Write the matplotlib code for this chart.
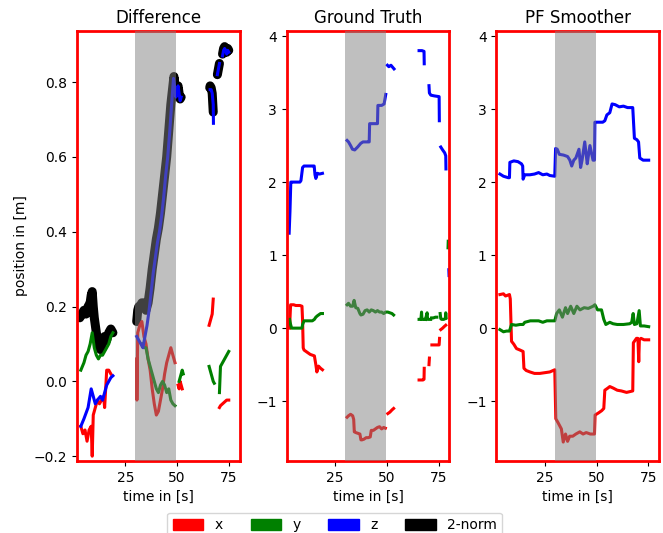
import numpy as np
import matplotlib
matplotlib.use('Agg')
import matplotlib.pyplot as plt
from matplotlib.patches import Patch

nan = np.nan

# ---- Difference panel ----
diff_x_t = [3.5, 4.5, 5.5, 6.5, 7.5, 8.5, 9, 9.5, 10.5, 11.5, 12.5, 13.5, 14.5, 15, 15.5, 16, 17, 18, nan,
            30.5, 30.6, 31, 32, 33, 34, 35, 36, 37, 38, 39, 40, 41, 42, 43, 44, 45, 46, 47, 48, 49, nan,
            50.5, 51, 51.5, 52, 52.5, nan, 65.5, 66, 66.5, 67, 67.5, nan, 70.5, 71, 72, 73, 74, 75]
diff_x = [-0.12, -0.14, -0.13, -0.16, -0.13, -0.12, -0.2, -0.09, -0.07, -0.05, -0.06, -0.05, -0.04, -0.07, -0.02, 0.03, 0.03, 0.02, nan,
          0.06, -0.05, 0.13, 0.15, 0.16, 0.12, 0.1, 0.06, 0.03, -0.02, -0.06, -0.09, -0.08, -0.05, -0.02, 0.02, 0.05, 0.07, 0.09, 0.07, 0.05, nan,
          -0.01, -0.02, 0.0, -0.01, -0.02, nan, 0.15, 0.16, 0.17, 0.18, 0.22, nan, -0.07, -0.065, -0.06, -0.055, -0.05, -0.05]

diff_y_t = [3.5, 5, 6, 7, 8, 9, 10, 11, 12, 13, 14, 15, 16, 17, 18, 19, nan,
            33, 34, 35, 36, 37, 38, 39, 40, 41, 42, 43, 44, 45, 46, 47, 48, 49, nan,
            51, 51.5, 52, 52.5, 53, nan, 65.5, 66, 66.5, 67, 67.5, 68, nan, 70.5, 71, 71.5, 72, 73, 74, 75]
diff_y = [0.03, 0.05, 0.07, 0.08, 0.1, 0.13, 0.09, 0.07, 0.06, 0.07, 0.07, 0.08, 0.09, 0.1, 0.12, 0.13, nan,
          0.1, 0.09, 0.09, 0.06, 0.04, 0.02, 0.0, -0.02, -0.03, -0.01, 0.0, -0.01, -0.03, -0.02, -0.05, -0.06, -0.065, nan,
          0.0, 0.01, 0.02, 0.03, 0.02, nan, 0.04, 0.03, 0.02, 0.01, 0.0, -0.005, nan, -0.03, 0.04, 0.045, 0.05, 0.06, 0.07, 0.08]

diff_z_t = [3.5, 5, 7, 8.5, 9.5, 10.5, 11.5, 13, 14, 15, 16, 17, 18, 19, nan,
            30.5, 31.5, 32.5, 33.5, 34.5, 35.5, 36.5, 37.5, 38.5, 39.5, 40.5, 41.5, 42.5, 43.5, 44.5, 45.5, 46.5, 47.5, 48.3,
            49.5, 50, 50.5, 51, 51.5, 52, nan,
            66, 66.5, 67, 67.5, 67.6, nan, 69.5, 70, 70.5, nan, 72, 72.5, 73, 73.5, 74, 74.5, 75]
diff_z = [-0.12, -0.1, -0.07, -0.02, -0.04, -0.06, -0.05, -0.04, -0.05, -0.03, -0.01, 0.0, 0.01, 0.015, nan,
          0.12, 0.11, 0.1, 0.09, 0.12, 0.15, 0.19, 0.24, 0.29, 0.33, 0.37, 0.4, 0.44, 0.49, 0.55, 0.6, 0.67, 0.75, 0.81,
          0.76, 0.78, 0.79, 0.77, 0.75, 0.76, nan,
          0.78, 0.78, 0.77, 0.74, 0.69, nan, 0.82, 0.835, 0.85, nan, 0.87, 0.885, 0.89, 0.885, 0.875, 0.885, 0.88]

diff_n_t = [3, 4, 5, 6, 7, 8, 8.5, 9, 9.5, 10, 11, 12, 13, 14, 15, 16, 17, 18, 19, nan,
            30.5, 31, 31.5, 32, 33, 34, 35, 36, 37, 38, 39, 40, 41, 42, 43, 44, 45, 46, 47, 48, 48.5,
            49.5, 50, 50.5, 51, 51.5, 52, nan,
            65.8, 66, 66.5, 67, 67.5, nan, 69.5, 70, 70.5, nan, 72, 72.5, 73, 73.5, 74, 74.5, 75]
diff_n = [0.17, 0.18, 0.19, 0.18, 0.2, 0.21, 0.23, 0.24, 0.2, 0.17, 0.13, 0.1, 0.085, 0.1, 0.12, 0.11, 0.13, 0.14, 0.13, nan,
          0.16, 0.19, 0.2, 0.2, 0.21, 0.21, 0.19, 0.21, 0.25, 0.3, 0.34, 0.38, 0.41, 0.45, 0.5, 0.55, 0.6, 0.67, 0.74, 0.79, 0.815,
          0.77, 0.78, 0.79, 0.77, 0.755, 0.76, nan,
          0.785, 0.79, 0.785, 0.77, 0.72, nan, 0.82, 0.835, 0.85, nan, 0.875, 0.89, 0.895, 0.89, 0.88, 0.89, 0.885]

# ---- Ground Truth panel ----
gt_x_t = [3, 3.5, 4, 5, 6, 7, 8, 9, 9.3, 9.6, 10, 11, 12, 13, 14, 15, 15.7, 16.2, 17, 18, 18.9, nan,
          30.8, 31.5, 32.5, 33.5, 34.0, 34.3, 35, 36, 37, 37.5, 38, 39, 40, 41, 42, 42.5, 43.5, 44.5, 45.5, 46.5, 47.5, 48.5, 49.3, nan,
          50.5, 51.5, 52.5, 53.3, nan,
          65.6, 66.5, 67.5, 68, 68.1, nan, 70.4, 70.6, nan, 71.8, 73, 74, 75.3, 75.5, nan, 76.1, 77, 77.7, 78.5]
gt_x = [0.0, 0.32, 0.32, 0.32, 0.31, 0.31, 0.31, 0.3, 0.1, -0.27, -0.3, -0.32, -0.34, -0.36, -0.37, -0.38, -0.5, -0.6, -0.52, -0.55, -0.57, nan,
        -1.22, -1.2, -1.18, -1.2, -1.25, -1.42, -1.43, -1.44, -1.45, -1.53, -1.53, -1.52, -1.5, -1.5, -1.49, -1.4, -1.4, -1.38, -1.36, -1.35, -1.38, -1.36, -1.37, nan,
        -1.17, -1.15, -1.12, -1.1, nan,
        -0.71, -0.71, -0.71, -0.7, -0.55, nan, -0.5, -0.41, nan, -0.23, -0.23, -0.23, -0.23, -0.14, nan, -0.02, 0.0, 0.02, 0.04]

gt_y_t = [3, 3.5, 4, 5, 6, 7, 8, 9, 9.3, 10, 11, 12, 13, 14, 15, 15.7, 16.5, 18, 18.9, nan,
          30.8, 31.5, 32.5, 33.5, 34.2, 35, 36, 37, 37.5, 38.5, 39.5, 40.5, 41.5, 42.5, 43.5, 44.5, 45.5, 46.5, 47.5, 48.5, 49.5,
          50.5, 51.5, 52.5, 53.3, nan,
          65.6, 66.5, 66.8, 67, 68, nan, 68.7, 69.5, 69.7, 70.5, 71.2, nan, 71.7, 72.5, 73.5, 74.2, nan,
          75.8, 76.1, 76.5, 77.5, 78.3, 78.5, 78.7, nan, 79.6, 79.7]
gt_y = [0.12, 0.05, 0.0, 0.0, 0.0, 0.0, 0.0, 0.0, 0.05, 0.1, 0.1, 0.1, 0.1, 0.1, 0.12, 0.15, 0.17, 0.2, 0.2, nan,
        0.32, 0.34, 0.3, 0.3, 0.38, 0.28, 0.27, 0.2, 0.18, 0.19, 0.24, 0.25, 0.22, 0.25, 0.24, 0.22, 0.24, 0.22, 0.22, 0.2, 0.22,
        0.22, 0.21, 0.2, 0.18, nan,
        0.12, 0.12, 0.22, 0.12, 0.12, nan, 0.12, 0.21, 0.12, 0.12, 0.12, nan, 0.14, 0.14, 0.15, 0.15, nan,
        0.2, 0.13, 0.12, 0.12, 0.13, 0.21, 0.14, nan, 1.1, 1.19]

gt_z_t = [2.8, 3.2, 3.6, 4, 5, 6, 7, 8, 8.5, 9.3, 10, 11, 12, 13, 14, 14.9, 15.3, 15.7, 16.5, 17.5, 18.9, nan,
          30.8, 31.5, 32.5, 33.4, 34.5, 35.9, 36.5, 37.4, 38.5, 39.5, 40.5, 41.5, 41.7, 42.3, 43, 44, 45, 45.5, 45.7, 46.5, 47.5, 48.7, 49.5, nan,
          50.3, 51, 52, 53.5, nan,
          65.6, 67, 68, 68.1, nan, 70.4, 70.6, 71.3, 73, 75.3, 75.4, nan, 76.1, 77, 78, 78.5, 78.6, nan, 80, 80.1]
gt_z = [1.3, 1.6, 2.0, 2.0, 2.0, 2.0, 2.0, 2.0, 2.02, 2.2, 2.22, 2.22, 2.22, 2.22, 2.22, 2.22, 2.1, 2.05, 2.12, 2.11, 2.12, nan,
        2.57, 2.55, 2.5, 2.45, 2.44, 2.48, 2.5, 2.53, 2.55, 2.55, 2.55, 2.55, 2.8, 2.8, 2.8, 2.8, 2.8, 2.8, 3.05, 3.05, 3.05, 3.07, 3.2, nan,
        3.6, 3.58, 3.6, 3.55, nan,
        3.8, 3.8, 3.79, 3.62, nan, 3.32, 3.22, 3.19, 3.18, 3.17, 2.84, nan, 2.48, 2.44, 2.4, 2.36, 2.18, nan, 0.8, 0.72]

# ---- PF Smoother panel ----
pf_x_t = [3.3, 5, 6, 7.9, 8.3, 8.9, 10, 11.3, 13, 14.5, 14.9, 16, 17.8, 20, 22.6, 25, 27.4, 29.8,
          30.3, 31.5, 33, 33.9, 35, 36, 37, 38.5, 40, 41.9, 43.5, 45, 47, 49, 49.3, 51, 52.5, 53.5,
          54, 55.5, 56.4, 58, 60, 62, 64.5, 66, 67.5, 67.8, 69.3, 70, 70.4, 70.7, 71.5, 73, 75.2]
pf_x = [0.46, 0.47, 0.44, 0.46, 0.4, -0.18, -0.22, -0.28, -0.3, -0.32, -0.55, -0.58, -0.6, -0.62, -0.62, -0.61, -0.6, -0.57,
        -1.24, -1.3, -1.38, -1.56, -1.45, -1.55, -1.48, -1.48, -1.45, -1.42, -1.45, -1.43, -1.45, -1.45, -1.19, -1.16, -1.13, -1.1,
        -0.85, -0.82, -0.8, -0.82, -0.85, -0.86, -0.88, -0.87, -0.86, -0.2, -0.14, -0.14, -0.46, -0.16, -0.14, -0.16, -0.16]

pf_y_t = [3.3, 5, 6.5, 7.9, 8.9, 11, 13, 14.5, 15.3, 18, 20, 22, 24, 26, 29.8,
          30.7, 32, 33.5, 35, 36, 37.5, 39, 40.5, 42, 44, 46, 48.3, 49.2, 50.5, 52.4, 53.5,
          54.5, 56.4, 58, 60, 63, 66, 67, 67.7, 68.3, 69.5, 70.6, 71.2, 73, 75.2]
pf_y = [-0.02, -0.05, -0.04, -0.04, 0.05, 0.04, 0.05, 0.05, 0.08, 0.1, 0.1, 0.1, 0.08, 0.1, 0.1,
        0.2, 0.25, 0.15, 0.28, 0.2, 0.3, 0.2, 0.3, 0.25, 0.28, 0.27, 0.3, 0.32, 0.25, 0.25, 0.12,
        0.05, 0.08, 0.06, 0.05, 0.05, 0.06, 0.08, 0.2, 0.05, 0.06, 0.24, 0.03, 0.03, 0.02]

pf_z_t = [3.3, 5, 7.3, 7.9, 8.1, 10, 12, 13.7, 14.3, 14.5, 15.3, 17.8, 20, 22, 24, 26, 27.4, 29.8,
          30.2, 31, 32, 34, 36, 37.1, 38, 39, 40, 41.5, 42.3, 43, 44.3, 45.5, 46, 46.8, 48.3, 49,
          49.2, 51, 53, 54, 55, 56.4, 57.5, 59, 61, 63, 65, 67.5, 68.3, 69.5, 70.3, 70.9, 72.5, 75.2]
pf_z = [2.11, 2.08, 2.06, 2.06, 2.27, 2.29, 2.28, 2.25, 2.22, 2.04, 2.1, 2.1, 2.11, 2.13, 2.1, 2.11, 2.09, 2.08,
        2.46, 2.45, 2.38, 2.37, 2.35, 2.3, 2.22, 2.3, 2.33, 2.45, 2.2, 2.3, 2.55, 2.25, 2.35, 2.5, 2.3, 2.3,
        2.82, 2.82, 2.82, 2.84, 2.92, 2.95, 3.07, 3.06, 3.03, 3.04, 3.02, 3.02, 2.6, 2.58, 2.55, 2.33, 2.3, 2.3]

colors = ['red', 'green', 'blue']
labels = ['x', 'y', 'z', '2-norm']
shade = (29.7, 49.5)

fig, axs = plt.subplots(1, 3, figsize=(6.63, 5.33), dpi=100)
plt.subplots_adjust(left=0.116, right=0.994, top=0.942, bottom=0.135, wspace=0.29)

# difference panel, 2-norm drawn first as thick black
ax = axs[0]
ax.plot(diff_n_t, diff_n, color='black', lw=6.5, solid_capstyle='round', solid_joinstyle='round')
for (t, v), c in zip([(diff_x_t, diff_x), (diff_y_t, diff_y), (diff_z_t, diff_z)], colors):
    ax.plot(t, v, color=c, lw=2.2)
ax.set_ylim(-0.213, 0.937)
ax.set_yticks([-0.2, 0.0, 0.2, 0.4, 0.6, 0.8])
ax.set_ylabel('position in [m]')
ax.set_title('Difference')

for (t, v), c in zip([(gt_x_t, gt_x), (gt_y_t, gt_y), (gt_z_t, gt_z)], colors):
    axs[1].plot(t, v, color=c, lw=2.2)
axs[1].set_title('Ground Truth')

for (t, v), c in zip([(pf_x_t, pf_x), (pf_y_t, pf_y), (pf_z_t, pf_z)], colors):
    axs[2].plot(t, v, color=c, lw=2.2)
axs[2].set_title('PF Smoother')

for ax in axs[1:]:
    ax.set_ylim(-1.82, 4.07)
    ax.set_yticks([-1, 0, 1, 2, 3, 4])

for ax in axs:
    ax.axvspan(*shade, color='gray', alpha=0.5, lw=0, zorder=5)
    ax.set_xlim(1.6, 80.2)
    ax.set_xticks([25, 50, 75])
    ax.set_xlabel('time in [s]')
    for sp in ax.spines.values():
        sp.set_color('red')
        sp.set_linewidth(2)

handles = [Patch(color=c) for c in colors + ['black']]
fig.legend(handles, labels, loc='lower center', bbox_to_anchor=(0.505, -0.022),
           ncol=4, handlelength=2.2, handleheight=0.85)

fig.savefig('out.png')
